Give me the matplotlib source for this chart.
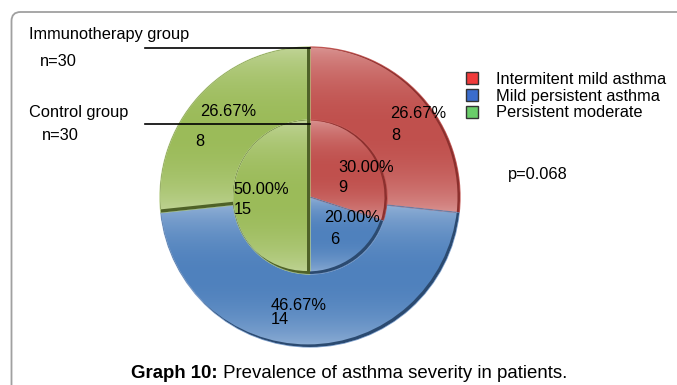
import numpy as np
import matplotlib
matplotlib.use("Agg")
import matplotlib.pyplot as plt
from matplotlib.patches import FancyBboxPatch, Patch, PathPatch, Wedge
from matplotlib.path import Path
from matplotlib.colors import to_rgb

plt.rcParams["font.family"] = ["Liberation Sans", "DejaVu Sans"]

# ---- data -------------------------------------------------------------
categories = ["Intermitent mild asthma", "Mild persistent asthma", "Persistent moderate"]
immunotherapy_counts = [8, 14, 8]     # outer ring, n=30
control_counts = [9, 6, 15]           # inner pie, n=30
immunotherapy_pct = ["26.67%", "46.67%", "26.67%"]
control_pct = ["30.00%", "20.00%", "50.00%"]
p_value = "p=0.068"

# ---- styling ----------------------------------------------------------
light = ["#DA9694", "#95B3D7", "#C3D69B"]
dark = ["#C0504D", "#4F81BD", "#9BBB59"]
edge = ["#C65B58", "#7FA0CC", "#B3CB82"]
rim_color = ["#8C302E", "#2B4A70", "#4F6228"]
rim_shift = [(-2.5, 0.0), (-2.2, 2.6), (-3.0, 3.0)]
legend_face = ["#F03A3A", "#3A6CCC", "#6ACD6A"]

W, H = 677, 385
fig = plt.figure(figsize=(W / 100, H / 100), dpi=100)
ax = fig.add_axes([0, 0, 1, 1])


def Y(py):
    """Convert a top-down pixel row to the axes' bottom-up coordinate."""
    return H - py


cx, cy = 310, Y(197)
R_out, R_in = 150, 77


def shade(wedge, c_light, c_dark):
    """Fill a wedge with a light-dark-light vertical gradient."""
    ext = wedge.get_path().get_extents()
    t = np.linspace(0, 1, 256)[:, None]
    w = np.sin(np.pi * t) ** 0.7
    cl, cd = np.array(to_rgb(c_light)), np.array(to_rgb(c_dark))
    img = (cl + (cd - cl) * w[..., None]).reshape(256, 1, 3)
    im = ax.imshow(img, extent=[ext.x0, ext.x1, ext.y0, ext.y1],
                   origin="lower", aspect="auto", zorder=2,
                   interpolation="bilinear")
    im.set_clip_path(wedge)


def rim(wedge, shift, color):
    """Darken the lower-right rim of a slice (bevel look).

    The shifted shape is the full sector, so a ring's inner arc stays light.
    """
    poly = wedge.get_path().to_polygons()[0]
    sector = Wedge(wedge.center, wedge.r, wedge.theta1, wedge.theta2)
    moved = sector.get_path().to_polygons()[0] + np.asarray(shift)
    path = Path.make_compound_path(Path(poly, closed=True),
                                   Path(moved[::-1], closed=True))
    pp = PathPatch(path, facecolor=color, edgecolor="none", zorder=2.5)
    ax.add_patch(pp)
    pp.set_clip_path(wedge)


outer, _ = ax.pie(immunotherapy_counts, radius=R_out, center=(cx, cy),
                  startangle=90, counterclock=False,
                  wedgeprops=dict(width=R_out - R_in))
inner, _ = ax.pie(control_counts, radius=R_in, center=(cx, cy),
                  startangle=90, counterclock=False)

for group in (outer, inner):
    for i, wdg in enumerate(group):
        wdg.set_facecolor("none")
        wdg.set_edgecolor(edge[i])
        wdg.set_linewidth(0.9)
        wdg.set_zorder(2.2)
        shade(wdg, light[i], dark[i])
        rim(wdg, rim_shift[i], rim_color[i])

# ---- slice labels (percentage over count) ----------------------------
outer_lbl = [((390, 113), (391, 136)), ((271, 305), (271, 320)), ((200, 112), (195, 141))]
inner_lbl = [((338, 167), (338, 187)), ((324, 218), (330, 239)), ((233, 190), (234, 209))]
fs = 11.8
for pcts, counts, pos in ((immunotherapy_pct, immunotherapy_counts, outer_lbl),
                          (control_pct, control_counts, inner_lbl)):
    for p, n, ((x1, y1), (x2, y2)) in zip(pcts, counts, pos):
        ax.text(x1, Y(y1), p, fontsize=fs, ha="left", va="center", zorder=5)
        ax.text(x2, Y(y2), str(n), fontsize=fs, ha="left", va="center", zorder=5)

# ---- group annotations -----------------------------------------------
ax.plot([145, cx], [Y(48), Y(48)], color="black", lw=1.2, zorder=4)
ax.plot([145, cx], [Y(124), Y(124)], color="black", lw=1.2, zorder=4)
ax.text(29, Y(35), "Immunotherapy group", fontsize=fs, va="center")
ax.text(40, Y(61), "n=30", fontsize=fs, va="center")
ax.text(29, Y(113), "Control group", fontsize=fs, va="center")
ax.text(42, Y(136), "n=30", fontsize=fs, va="center")
ax.text(508, Y(174), p_value, fontsize=fs, va="center")

# ---- legend -----------------------------------------------------------
handles = [Patch(facecolor=f, edgecolor="#333333", linewidth=1.0) for f in legend_face]
ax.legend(handles, categories, loc="upper left",
          bbox_to_anchor=(466, Y(72)), bbox_transform=ax.transData,
          frameon=False, fontsize=fs, handlelength=0.75, handleheight=0.75,
          handletextpad=1.1, labelspacing=0.1, borderpad=0, borderaxespad=0)

# ---- frame and caption ------------------------------------------------
frame = FancyBboxPatch((11.5, -40), 720, Y(12) + 40,
                       boxstyle="round,pad=0,rounding_size=9",
                       facecolor="none", edgecolor="#A0A0A0", lw=1.3, zorder=1)
ax.add_patch(frame)

cap = ax.text(131, Y(378), "Graph 10:", fontsize=13.4, fontweight="bold",
              ha="left", va="baseline")
ax.annotate(" Prevalence of asthma severity in patients.", xy=(1, 0),
            xycoords=cap, fontsize=13.4, ha="left", va="bottom")

ax.set_xlim(0, W)
ax.set_ylim(0, H)
ax.set_aspect("auto")
ax.axis("off")
fig.savefig("out.png", dpi=100)
